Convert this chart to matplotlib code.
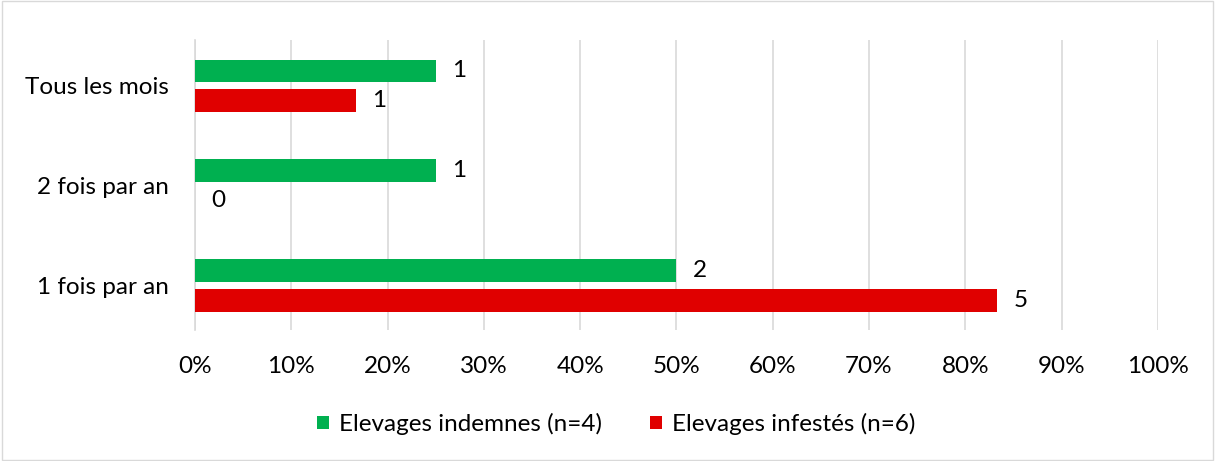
import matplotlib.pyplot as plt
import numpy as np

plt.rcParams['font.family'] = ['Lato', 'DejaVu Sans']

categories = ['Tous les mois', '2 fois par an', '1 fois par an']
pct_indemnes = [25.0, 25.0, 50.0]
pct_infestes = [16.67, 0.0, 83.33]
n_indemnes = [1, 1, 2]
n_infestes = [1, 0, 5]
xticks = np.arange(0, 101, 10)

fs = 17.5
fig = plt.figure(figsize=(12.15, 4.61), dpi=100)
ax = fig.add_axes([0.1605, 0.284, 0.7925, 0.629])

y = np.arange(len(categories))[::-1]
h = 0.23
off = 0.15

b1 = ax.barh(y + off, pct_indemnes, height=h, color='#00B050', label='Elevages indemnes (n=4)', zorder=3)
b2 = ax.barh(y - off, pct_infestes, height=h, color='#E00000', label='Elevages infestés (n=6)', zorder=3)
ax.bar_label(b1, labels=[str(v) for v in n_indemnes], padding=12, fontsize=fs, color='#000000')
ax.bar_label(b2, labels=[str(v) for v in n_infestes], padding=12, fontsize=fs, color='#000000')

ax.set_xlim(0, 100)
ax.set_ylim(-0.45, 2.46)
ax.set_xticks(xticks)
ax.set_xticklabels([f'{v}%' for v in xticks], fontsize=fs)
ax.set_yticks(y)
ax.set_yticklabels(categories, fontsize=fs)
ax.tick_params(length=0, pad=19, axis='x')
ax.tick_params(length=0, pad=19, axis='y')
ax.grid(axis='x', color='#D9D9D9', linewidth=1.2, zorder=0)
for s in ['top', 'right', 'bottom']:
    ax.spines[s].set_visible(False)
ax.spines['left'].set_color('#D9D9D9')
ax.spines['left'].set_linewidth(1.2)

fig.legend(loc='center', bbox_to_anchor=(0.507, 0.08), ncol=2, frameon=False,
           fontsize=fs, handlelength=0.5, handleheight=0.5, columnspacing=2.0, handletextpad=0.4)

fig.patches.append(plt.Rectangle((0.002, 0.003), 0.996, 0.994, transform=fig.transFigure,
                                 fill=False, edgecolor='#D9D9D9', linewidth=1))

fig.savefig('out.png', dpi=100)
